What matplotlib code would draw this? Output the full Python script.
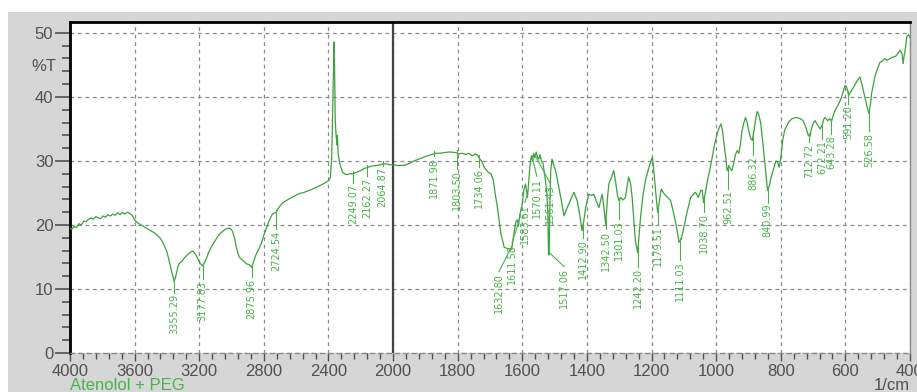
import numpy as np
import matplotlib
matplotlib.use('Agg')
import matplotlib.pyplot as plt
from matplotlib import font_manager
from matplotlib.ticker import FixedLocator, FixedFormatter
from matplotlib.patches import Rectangle

# FTIR spectrum (1/cm, %T)
wavenumber = [
    4000, 3990, 3975, 3960, 3945, 3930, 3915, 3900, 3885, 3870, 3855, 3840, 3825,
    3810, 3795, 3780, 3765, 3750, 3735, 3720, 3705, 3690, 3675, 3660, 3645, 3630,
    3615, 3600, 3585, 3560, 3540, 3520, 3500, 3480, 3460, 3440, 3420, 3400, 3385,
    3370, 3355, 3345, 3331, 3320, 3305, 3290, 3270, 3250, 3238, 3225, 3210, 3195,
    3178, 3160, 3140, 3125, 3100, 3080, 3064, 3040, 3020, 3005, 2994, 2980, 2970,
    2960, 2950, 2935, 2920, 2905, 2890, 2876, 2865, 2848, 2830, 2817, 2800, 2780,
    2765, 2747, 2724, 2710, 2690, 2662, 2620, 2580, 2549, 2500, 2457, 2420, 2400,
    2388, 2380, 2375, 2370, 2367, 2365, 2362, 2358, 2352, 2347, 2345, 2340, 2330,
    2313, 2295, 2282, 2265, 2249, 2230, 2200, 2180, 2158, 2130, 2100, 2076, 2060,
    2037, 2020, 2000, 1985, 1966, 1950, 1935, 1915, 1894, 1880, 1868, 1855, 1842,
    1825, 1806, 1795, 1785, 1775, 1765, 1755, 1745, 1739, 1733, 1725, 1718, 1713,
    1705, 1697, 1690, 1687, 1677, 1666, 1656, 1645, 1633, 1625, 1620, 1615, 1612,
    1608, 1600, 1595, 1590, 1584, 1580, 1576, 1572, 1568, 1565, 1561, 1557, 1553,
    1549, 1545, 1541, 1536, 1530, 1524, 1521, 1519, 1517, 1515, 1512, 1508, 1504,
    1497, 1487, 1478, 1471, 1461, 1450, 1440, 1430, 1422, 1415, 1410, 1404, 1394,
    1385, 1379, 1370, 1363, 1353, 1348, 1342, 1336, 1332, 1325, 1317, 1312, 1305,
    1301, 1295, 1288, 1281, 1271, 1265, 1260, 1250, 1243, 1234, 1226, 1219, 1208,
    1200, 1197, 1193, 1186, 1181, 1175, 1170, 1160, 1150, 1141, 1131, 1122, 1115,
    1108, 1100, 1090, 1079, 1070, 1064, 1055, 1048, 1043, 1039, 1032, 1027, 1020,
    1012, 1005, 997, 990, 985, 980, 977, 970, 966, 960, 955, 951, 945, 940, 935,
    930, 925, 920, 915, 909, 904, 899, 893, 888, 882, 877, 873, 868, 862, 857, 852,
    846, 841, 835, 830, 822, 815, 810, 805, 800, 794, 788, 783, 775, 765, 752, 740,
    731, 722, 715, 710, 705, 700, 694, 686, 678, 672, 667, 663, 655, 648, 643, 637,
    632, 624, 616, 608, 601, 597, 593, 590, 583, 575, 565, 555, 548, 540, 533, 527,
    522, 519, 513, 508, 500, 493, 485, 478, 470, 462, 455, 446, 440, 431, 425, 421,
    418, 415, 412, 410, 405, 402, 400,
]
transmittance = [
    19.5, 19.3, 19.8, 19.6, 20.2, 20.0, 20.6, 20.5, 20.9, 21.1, 20.9, 21.3, 21.1,
    21.0, 21.4, 21.2, 21.6, 21.4, 21.7, 21.5, 21.9, 21.6, 22.0, 21.7, 22.0, 21.8,
    21.5, 20.8, 20.4, 20.0, 19.7, 19.4, 19.1, 18.8, 18.4, 17.9, 17.0, 15.8, 14.3,
    12.6, 11.2, 12.0, 13.6, 14.1, 14.4, 14.9, 15.4, 15.8, 15.9, 15.5, 14.8, 14.0,
    13.6, 14.5, 15.8, 16.6, 17.6, 18.4, 18.8, 19.3, 19.5, 19.4, 19.0, 17.8, 16.5,
    15.5, 14.9, 14.6, 14.2, 13.9, 13.8, 13.4, 14.2, 15.4, 16.3, 17.0, 18.4, 19.8,
    20.8, 21.7, 22.0, 22.6, 23.3, 23.8, 24.4, 24.9, 25.1, 25.6, 26.1, 26.6, 26.9,
    27.4, 30.5, 36.3, 43.0, 45.7, 48.6, 44.1, 36.3, 33.7, 32.5, 34.0, 31.1, 29.6,
    28.2, 27.9, 27.9, 28.0, 28.0, 28.2, 28.5, 28.8, 29.0, 29.2, 29.3, 29.4, 29.6,
    29.5, 29.4, 29.4, 29.3, 29.3, 29.6, 30.0, 30.4, 30.8, 31.0, 31.2, 31.2, 31.3,
    31.4, 31.3, 31.1, 31.2, 31.0, 31.2, 30.8, 31.1, 30.9, 30.4, 29.9, 29.0, 28.7,
    28.2, 28.0, 27.0, 25.9, 22.7, 18.6, 16.5, 16.3, 16.2, 19.0, 20.5, 20.8, 19.8,
    21.5, 23.3, 25.5, 26.4, 24.3, 27.0, 29.5, 30.8, 30.0, 31.2, 30.5, 31.4, 30.6,
    30.3, 31.0, 30.0, 29.6, 27.6, 25.0, 22.0, 16.0, 15.3, 22.5, 28.5, 30.3, 29.5,
    28.5, 25.9, 23.5, 21.4, 22.7, 24.0, 25.1, 23.8, 21.5, 19.1, 20.5, 22.7, 24.8,
    24.6, 24.8, 23.6, 22.7, 24.8, 23.0, 20.1, 24.5, 26.4, 27.3, 28.5, 27.0, 24.5,
    23.8, 24.3, 23.9, 24.3, 27.5, 26.5, 24.3, 17.5, 15.7, 21.2, 24.8, 26.9, 29.0,
    30.3, 30.5, 28.5, 24.5, 22.0, 24.0, 25.6, 24.8, 24.3, 23.8, 21.7, 19.5, 17.3,
    17.8, 19.6, 22.0, 24.3, 24.8, 25.1, 24.3, 25.4, 25.4, 23.5, 25.5, 26.9, 28.5,
    30.6, 32.6, 34.2, 35.3, 35.8, 34.7, 33.2, 30.5, 28.5, 29.2, 28.7, 28.5, 29.8,
    31.0, 31.6, 31.2, 32.5, 34.7, 35.8, 36.8, 36.0, 34.7, 33.5, 33.2, 35.0, 36.8,
    37.7, 37.2, 35.9, 33.5, 31.1, 28.0, 25.4, 26.2, 27.4, 28.8, 30.0, 29.8, 29.0,
    30.5, 33.2, 34.8, 35.3, 36.1, 36.6, 36.8, 36.6, 36.3, 35.2, 34.0, 33.8, 35.0,
    35.8, 36.3, 35.6, 35.0, 35.6, 36.5, 36.8, 36.3, 36.6, 36.2, 37.2, 37.9, 38.6,
    39.4, 40.6, 41.8, 41.6, 41.0, 40.2, 40.8, 41.5, 42.4, 43.1, 41.8, 40.0, 38.5,
    37.4, 39.0, 40.5, 42.0, 43.3, 44.5, 45.4, 45.6, 46.0, 45.7, 46.0, 46.2, 46.3,
    46.6, 47.3, 46.8, 45.2, 46.5, 47.3, 48.5, 49.4, 49.7, 49.5, 49.3,
]

peak_labels = [
    '3355.29', '3177.83', '2875.96', '2724.54', '2249.07', '2162.27', '2064.87',
    '1871.98', '1803.50', '1734.06', '1632.80', '1611.58', '1583.61', '1570.11',
    '1561.43', '1517.06', '1412.90', '1342.50', '1301.03', '1242.20', '1179.51',
    '1111.03', '1038.70', '962.51', '886.32', '840.99', '712.72', '672.21',
    '643.28', '591.20', '526.58',
]

# layout of the peak labels: %T of the text top, and where the text sits
label_top = [
    9.2, 11.3, 11.6, 19.1, 26.4, 27.4, 29.0, 30.5, 28.5, 28.8, 12.5, 17.0, 23.3,
    27.4, 26.4, 13.3, 17.8, 19.1, 20.7, 13.3, 19.9, 14.4, 21.9, 25.4, 30.8, 23.3,
    32.7, 33.2, 34.0, 38.7, 34.4,
]
label_shift_to = {'1632.80': 1672, '1611.58': 1632, '1583.61': 1592,
                  '1570.11': 1555, '1561.43': 1515, '1517.06': 1471}

major_ticks = [4000, 3600, 3200, 2800, 2400, 2000, 1800, 1600, 1400, 1200,
               1000, 800, 600, 400]

LINE = '#3aa23a'
LABEL = '#48b248'
GREY = '#505050'


def fwd(w):
    # scale is halved above 2000 1/cm
    w = np.asarray(w, dtype=float)
    return np.where(w >= 2000, (w - 2000) / 2.0, w - 2000)


def inv(q):
    q = np.asarray(q, dtype=float)
    return np.where(q >= 0, 2000 + 2.0 * q, 2000 + q)


names = {f.name for f in font_manager.fontManager.ttflist}
if 'Liberation Sans Narrow' in names:
    lab_font = dict(family='Liberation Sans Narrow', size=10)
else:
    lab_font = dict(family='DejaVu Sans', size=7)
plt.rcParams['font.family'] = ['Liberation Sans', 'DejaVu Sans']

fig = plt.figure(figsize=(9.17, 3.92), dpi=100)
fig.patches.append(Rectangle((8 / 917, 0), 1, 380 / 392, transform=fig.transFigure,
                             facecolor='#d6d6d6', edgecolor='none', zorder=-10))
ax = fig.add_axes([70 / 917, 39 / 392, 840 / 917, 331 / 392])
ax.set_facecolor('white')
ax.set_xscale('function', functions=(fwd, inv))
ax.set_xlim(4000, 400)
ax.set_ylim(0, 51.7)

wn = np.array(wavenumber, dtype=float)
tr = np.array(transmittance, dtype=float)
ax.plot(wn, tr, color=LINE, lw=0.9, zorder=3)

# peak labels with leaders
for lab, top in zip(peak_labels, label_top):
    w = float(lab)
    tw = label_shift_to.get(lab, w)
    yc = np.interp(w, wn[::-1], tr[::-1])
    ax.plot([w, tw], [yc + 0.4, top + 0.2], color=LABEL, lw=0.8, zorder=3)
    ax.text(tw, top, lab, rotation=90, ha='center', va='top', color=LABEL,
            zorder=4, **lab_font)

ax.axvline(2000, color='#444444', lw=1.6, zorder=2)

ax.xaxis.set_major_locator(FixedLocator(major_ticks))
ax.xaxis.set_major_formatter(FixedFormatter([str(t) for t in major_ticks]))
minors = [w for w in range(4000, 2000, -80) if w not in major_ticks]
minors += [w for w in range(2000, 400, -40) if w not in major_ticks]
ax.xaxis.set_minor_locator(FixedLocator(minors))
ax.set_yticks([0, 10, 20, 30, 40, 50])
ax.set_yticks(np.arange(0, 51, 2), minor=True)

ax.grid(True, which='major', color='#8a8a8a', ls=(0, (3, 3)), lw=0.9, zorder=1)
ax.tick_params(axis='y', which='major', length=11, width=1.2, pad=1,
               labelsize=12, labelcolor=GREY, color=GREY)
ax.tick_params(axis='y', which='minor', length=6, width=1.2, color=GREY)
ax.tick_params(axis='x', which='major', length=6, width=1, pad=2,
               labelsize=12, labelcolor=GREY, color=GREY)
ax.tick_params(axis='x', which='minor', length=4, width=1, color=GREY)

ax.spines['left'].set_linewidth(2)
ax.spines['left'].set_color('black')
ax.spines['top'].set_linewidth(2)
ax.spines['top'].set_color('black')
ax.spines['right'].set_linewidth(1)
ax.spines['right'].set_color('#8a8a8a')
ax.spines['bottom'].set_linewidth(1)
ax.spines['bottom'].set_color('#8a8a8a')
ax.spines['bottom'].set_linestyle((0, (3, 3)))

ax.text(-0.016, 44.8, '%T', transform=ax.get_yaxis_transform(), ha='right',
        va='center', fontsize=12, color=GREY)
fig.text(70 / 917, 7 / 392, 'Atenolol + PEG', color=LABEL, fontsize=12,
         ha='left', va='center')
fig.text(910 / 917, 7 / 392, '1/cm', color=GREY, fontsize=12, ha='right',
         va='center')

fig.savefig('out.png', dpi=100)
